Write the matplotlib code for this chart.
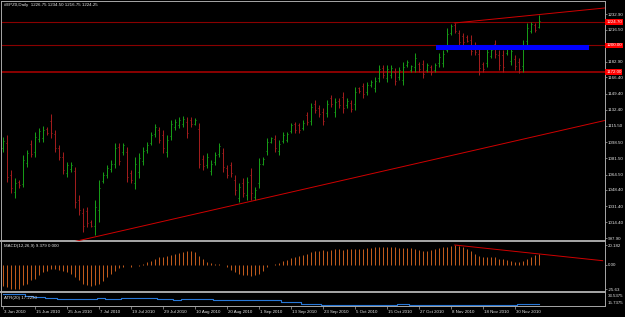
import numpy as np
import matplotlib.pyplot as plt
import matplotlib.transforms as mtrans

# daily bars, #EPZ0
highs = [1103.9, 1106.0, 1069.3, 1060.9, 1058.8, 1085.0, 1090.2, 1100.7, 1109.1, 1113.3,
         1115.4, 1114.4, 1128.0, 1111.2, 1095.5, 1088.1, 1077.7, 1077.7, 1072.4, 1043.0,
         1029.4, 1030.5, 1016.8, 1037.8, 1058.8, 1067.2, 1074.5, 1079.8, 1097.6, 1097.6,
         1097.6, 1093.4, 1069.3, 1082.9, 1087.1, 1093.4, 1098.6, 1109.1, 1117.5, 1114.4,
         1111.2, 1106.0, 1121.7, 1122.7, 1124.9, 1125.9, 1124.9, 1124.9, 1123.8, 1118.6,
         1085.0, 1087.1, 1079.8, 1088.1, 1097.6, 1092.4, 1074.5, 1077.7, 1064.1, 1055.6,
         1060.9, 1062.0, 1071.4, 1051.4, 1081.9, 1082.9, 1102.8, 1103.9, 1106.0, 1100.7,
         1109.1, 1109.1, 1118.6, 1119.6, 1118.6, 1121.7, 1130.1, 1139.6, 1142.7, 1137.5,
         1134.3, 1142.7, 1147.9, 1144.8, 1144.8, 1151.1, 1144.8, 1142.7, 1156.3, 1156.3,
         1160.5, 1161.6, 1163.7, 1166.8, 1179.4, 1179.4, 1179.4, 1179.4, 1176.3, 1177.3,
         1182.6, 1184.7, 1179.4, 1192.0, 1182.6, 1184.7, 1181.5, 1179.4, 1181.5, 1192.0,
         1195.2, 1218.2, 1222.4, 1223.5, 1216.1, 1213.0, 1210.9, 1210.9, 1203.5, 1197.2,
         1182.6, 1197.2, 1197.2, 1205.6, 1195.2, 1195.2, 1198.3, 1198.3, 1189.9, 1186.8,
         1205.6, 1223.5, 1224.5, 1223.5, 1232.0]
lows = [1088.2, 1056.7, 1045.2, 1039.9, 1050.4, 1051.4, 1072.4, 1082.9, 1082.9, 1098.6,
        1098.6, 1106.0, 1102.8, 1088.1, 1079.8, 1065.1, 1062.0, 1067.2, 1029.4, 1022.1,
        1004.2, 1009.5, 1009.5, 1001.1, 1014.7, 1055.6, 1060.9, 1067.2, 1071.4, 1074.5,
        1085.0, 1056.7, 1055.6, 1049.3, 1060.9, 1074.5, 1087.1, 1095.5, 1103.9, 1097.6,
        1087.1, 1082.9, 1100.7, 1111.2, 1113.3, 1114.4, 1102.8, 1114.4, 1116.5, 1071.4,
        1069.3, 1071.4, 1064.1, 1074.5, 1082.9, 1067.2, 1060.9, 1062.0, 1043.0, 1035.7,
        1040.9, 1037.8, 1037.8, 1037.8, 1050.4, 1074.5, 1085.0, 1097.6, 1088.1, 1085.0,
        1097.6, 1098.6, 1108.1, 1108.1, 1108.1, 1111.2, 1116.5, 1116.5, 1129.1, 1124.9,
        1116.5, 1124.9, 1135.4, 1124.9, 1134.3, 1129.1, 1134.3, 1130.1, 1132.2, 1150.0,
        1144.8, 1147.9, 1156.3, 1151.1, 1161.6, 1165.8, 1161.6, 1165.8, 1158.4, 1163.7,
        1158.4, 1177.3, 1172.1, 1172.1, 1172.1, 1165.8, 1172.1, 1168.9, 1172.1, 1177.3,
        1177.3, 1193.1, 1210.9, 1213.0, 1200.4, 1200.4, 1203.5, 1189.9, 1189.9, 1168.9,
        1172.1, 1177.3, 1186.8, 1186.8, 1174.2, 1172.1, 1189.9, 1179.4, 1174.2, 1171.0,
        1172.1, 1200.4, 1213.0, 1214.0, 1218.2]
opens = [1092, 1098, 1064, 1046, 1057, 1055, 1077, 1097, 1088, 1102,
         1103, 1112, 1121, 1107, 1092, 1083, 1066, 1070, 1068, 1038,
         1024, 1026, 1015, 1010, 1027, 1058, 1064, 1070, 1076, 1093,
         1088, 1088, 1066, 1056, 1067, 1079, 1090, 1098, 1107, 1111,
         1106, 1088, 1105, 1114, 1116, 1117, 1120, 1122, 1118, 1112,
         1081, 1075, 1068, 1078, 1086, 1087, 1071, 1074, 1059, 1040,
         1056, 1043, 1064, 1041, 1056, 1076, 1089, 1099, 1102, 1089,
         1100, 1101, 1110, 1117, 1116, 1113, 1127, 1121, 1139, 1134,
         1130, 1129, 1145, 1130, 1142, 1146, 1137, 1140, 1138, 1155,
         1157, 1151, 1158, 1155, 1166, 1176, 1166, 1169, 1172, 1167,
         1164, 1179, 1174, 1177, 1180, 1180, 1174, 1177, 1174, 1181,
         1182, 1195, 1213, 1221, 1213, 1210, 1209, 1206, 1200, 1191,
         1180, 1181, 1189, 1201, 1190, 1190, 1192, 1184, 1186, 1183,
         1178, 1205, 1215, 1221, 1219]
closes = [1100, 1062, 1050, 1056, 1053, 1080, 1087, 1086, 1104, 1110,
          1111, 1108, 1108, 1092, 1083, 1069, 1074, 1075, 1036, 1027,
          1010, 1014, 1011, 1030, 1050, 1064, 1071, 1076, 1092, 1079,
          1095, 1062, 1059, 1076, 1082, 1089, 1096, 1106, 1114, 1101,
          1092, 1101, 1117, 1120, 1122, 1123, 1108, 1117, 1122, 1076,
          1073, 1083, 1076, 1085, 1094, 1072, 1064, 1066, 1048, 1051,
          1045, 1057, 1045, 1048, 1076, 1081, 1099, 1103, 1092, 1097,
          1106, 1107, 1116, 1111, 1111, 1119, 1120, 1135, 1132, 1128,
          1121, 1139, 1138, 1141, 1137, 1134, 1142, 1133, 1151, 1152,
          1149, 1158, 1162, 1163, 1175, 1169, 1175, 1176, 1163, 1174,
          1177, 1183, 1178, 1187, 1175, 1170, 1179, 1172, 1179, 1188,
          1191, 1212, 1220, 1215, 1204, 1204, 1205, 1194, 1193, 1176,
          1175, 1193, 1195, 1191, 1179, 1177, 1196, 1194, 1178, 1175,
          1200, 1218, 1222, 1216, 1226]

# MACD(12,26,9) histogram
macd = [-22.0,
        -23.3, -25.0, -25.6, -25.0, -21.6, -19.9, -16.5, -14.7, -11.3, -7.9,
        -6.2, -4.5, -4.5, -5.5, -6.2, -7.9, -9.6, -13.0, -16.5, -19.9,
        -21.6, -22.6, -21.6, -19.9, -17.2, -13.0, -9.6, -6.2, -3.4, -2.1,
        -0.7, -2.1, -1.0, -1.4, 0.3, 2.4, 3.4, 5.8, 7.5, 8.2,
        9.3, 10.3, 11.0, 11.7, 12.7, 13.7, 13.7, 12.7, 9.3, 5.8,
        2.4, 1.7, 0.7, 0.3, -1.0, -2.7, -5.5, -7.9, -9.6, -11.3,
        -11.3, -12.3, -11.3, -9.6, -6.2, -2.7, -0.3, 0.7, 1.7, 3.4,
        4.8, 6.9, 8.2, 9.3, 10.3, 11.0, 12.7, 13.7, 14.4,
        15.1, 14.4, 15.1, 15.8, 15.8, 15.1, 15.8, 15.8, 15.8, 16.1,
        16.1, 16.8, 17.2, 17.8, 18.5, 18.5, 18.5, 17.8, 17.8, 17.2,
        17.2, 17.2, 17.2, 16.1, 15.1, 14.4, 14.4, 15.1, 16.1, 17.2,
        17.8, 18.5, 19.2, 20.182,
        18.9, 17.8, 16.1, 14.4, 11.0, 9.3, 8.2, 8.2, 8.2, 8.2,
        5.8, 5.8, 4.8, 4.1, 2.4, 2.4, 3.4, 5.8, 8.2, 10.3, 11.0]

# ATR(20)
atr = [31.9, 31.9, 31.9, 31.9, 31.9, 31.9, 29.5, 29.5, 27.5, 27.5,
       27.5, 26.0, 26.0, 26.0, 25.0, 25.0, 25.0, 25.0, 25.0, 25.0,
       25.0, 25.0, 24.6, 24.6, 25.8, 25.8, 25.0, 25.0, 25.0, 25.0,
       26.2, 26.2, 26.2, 26.2, 26.2, 25.8, 25.8, 25.8, 25.8, 25.0,
       25.0, 25.0, 25.0, 23.6, 23.6, 24.4, 24.4, 24.4, 24.4, 24.4,
       24.4, 24.4, 24.4, 23.4, 23.4, 23.4, 23.4, 23.4, 23.4, 23.4,
       23.4, 23.4, 23.4, 23.4, 23.9, 23.9, 23.9, 23.9, 23.9, 23.9,
       21.0, 21.0, 21.0, 21.0, 21.0, 18.5, 18.5, 18.5, 18.5, 18.5,
       16.8, 16.8, 16.8, 16.8, 16.8, 16.0, 16.0, 16.0, 16.0, 16.8,
       16.8, 16.8, 16.8, 16.8, 16.8, 16.8, 16.8, 16.8, 16.8, 17.8,
       17.8, 17.8, 16.8, 16.8, 16.8, 16.8, 16.8, 16.8, 16.8, 16.0,
       16.0, 16.0, 16.0, 16.0, 16.0, 16.0, 16.0, 16.8, 16.8, 16.0,
       16.0, 16.0, 16.0, 16.0, 16.0, 16.0, 16.0, 16.0, 16.0, 17.2,
       17.2, 17.2, 17.2, 17.2, 17.2]

date_pos = [0, 8, 16, 24, 32, 40, 48, 56, 64, 72, 80, 88, 96, 104, 112, 120, 128]
date_labels = ['3 Jun 2010', '15 Jun 2010', '25 Jun 2010', '7 Jul 2010', '19 Jul 2010',
               '29 Jul 2010', '10 Aug 2010', '20 Aug 2010', '1 Sep 2010', '13 Sep 2010',
               '23 Sep 2010', '5 Oct 2010', '15 Oct 2010', '27 Oct 2010', '8 Nov 2010',
               '18 Nov 2010', '30 Nov 2010']
price_ticks = [1232.90, 1216.50, 1182.90, 1166.40, 1149.40, 1132.40, 1115.50, 1098.50,
               1081.50, 1064.50, 1048.40, 1031.40, 1014.40, 997.90]
levels = [1224.70, 1200.00, 1172.00]
level_labels = ['1224.70', '1200.00', '1172.00']
zone = [108.3, 146.6, 1195.2, 1200.4]          # blue rectangle: x0, x1, y0, y1
trend_up = [(113, 1223.5), (134, 1232.3)]
trend_low = [(23, 999.0), (150, 1120.7)]
trend_macd = [(113, 20.182), (150, 3.95)]

W, H = 625, 317
FG = '#E6E6E6'
GRID = '#A8A8A8'
FS = 3.2
LW = 0.72   # one pixel
plt.rcParams['font.family'] = ['Liberation Sans', 'DejaVu Sans']

fig = plt.figure(figsize=(W / 100, H / 100), dpi=100, facecolor='black')


def px_axes(x0, y0, x1, y1):
    return fig.add_axes([x0 / W, 1 - y1 / H, (x1 - x0) / W, (y1 - y0) / H])


ax = px_axes(1, 1, 605, 240.5)
ax_m = px_axes(1, 241.5, 605, 292)
ax_a = px_axes(1, 292.5, 605, 306)

n = len(highs)
x = np.arange(n)
xlim = (-0.425, 150.575)

for a in (ax, ax_m, ax_a):
    a.set_facecolor('black')
    a.set_xlim(*xlim)
    for s in a.spines.values():
        s.set_color(GRID)
        s.set_linewidth(0.7)
    a.yaxis.tick_right()
    a.tick_params(axis='y', colors=GRID, labelcolor=FG, length=1.5, width=0.5,
                  pad=0.6, labelsize=FS)
    a.set_xticks([])
ax.spines['bottom'].set_linewidth(1.4)
ax_m.spines['top'].set_visible(False)
ax_m.spines['bottom'].set_linewidth(1.4)
ax_a.spines['top'].set_visible(False)

# --- main price window
ax.set_ylim(995.3, 1246.55)
up = np.array(closes) >= np.array(opens)
cols = np.where(up, '#169A16', '#A01C1C')
ax.vlines(x, lows, highs, colors=cols, lw=LW, zorder=3)
ax.hlines(opens, x - 0.25, x, colors=cols, lw=LW, zorder=3)
ax.hlines(closes, x, x + 0.25, colors=cols, lw=LW, zorder=3)

for lv in levels:
    ax.axhline(lv, color='#8A0000', lw=0.8 if lv != levels[-1] else 1.4, zorder=2)
ax.fill_between([zone[0], zone[1]], zone[2], zone[3], color='#0000FF', lw=0, zorder=4)

(ux0, uy0), (ux1, uy1) = trend_up
k = (uy1 - uy0) / (ux1 - ux0)
ax.plot([ux0, xlim[1]], [uy0, uy0 + k * (xlim[1] - ux0)], color='#D00000', lw=0.7, zorder=5)
(lx0, ly0), (lx1, ly1) = trend_low
k = (ly1 - ly0) / (lx1 - lx0)
ax.plot([18, xlim[1]], [ly0 + k * (18 - lx0), ly0 + k * (xlim[1] - lx0)],
        color='#D00000', lw=0.7, zorder=5)

ax.set_yticks(price_ticks)
ax.set_yticklabels(['%.2f' % v for v in price_ticks])
for lv, lab in zip(levels, level_labels):
    ax.text(1.002, lv, lab, transform=ax.get_yaxis_transform(), color='white',
            fontsize=FS, va='center', ha='left', clip_on=False, zorder=10,
            bbox=dict(facecolor='#FF0000', edgecolor='none', pad=0.6))

# --- MACD window
ax_m.set_ylim(-28.4, 23.8)
ax_m.vlines(x, 0, macd, colors='#C05A1C', lw=LW)
(mx0, my0), (mx1, my1) = trend_macd
ax_m.plot([mx0, mx1], [my0, my1], color='#D00000', lw=0.7)
ax_m.set_yticks([20.182, 0.0, -25.63])
ax_m.set_yticklabels(['20.182', '0.00', '-25.63'])

# --- ATR window
ax_a.set_ylim(15.0, 34.0)
ax_a.plot(x, atr, color='#2878D8', lw=0.8, drawstyle='steps-mid')
ax_a.set_yticks([])
ax_a.text(1.005, 0.72, '33.5375', transform=ax_a.transAxes, color=FG, fontsize=FS,
          va='center', ha='left', clip_on=False)
ax_a.text(1.005, 0.24, '15.7375', transform=ax_a.transAxes, color=FG, fontsize=FS,
          va='center', ha='left', clip_on=False)

ax_a.set_xticks(date_pos)
ax_a.set_xticklabels(date_labels, ha='left')
ax_a.tick_params(axis='x', colors=GRID, labelcolor=FG, length=2.5, width=0.5,
                 pad=0.5, labelsize=FS)
shift = mtrans.ScaledTranslation(1.5 / 100, 0, fig.dpi_scale_trans)
for lab in ax_a.get_xticklabels():
    lab.set_transform(lab.get_transform() + shift)

# window captions
fig.text(4 / W, 1 - 5 / H, '#EPZ0,Daily  1226.75 1234.50 1216.75 1224.25', color=FG,
         fontsize=FS, va='center', ha='left')
fig.text(4 / W, 1 - 246 / H, 'MACD(12,26,9) 9.379 0.000', color=FG,
         fontsize=FS, va='center', ha='left')
fig.text(4 / W, 1 - 298 / H, 'ATR(20) 17.2250', color=FG,
         fontsize=FS, va='center', ha='left')

fig.savefig('out.png', dpi=100, facecolor='black')
